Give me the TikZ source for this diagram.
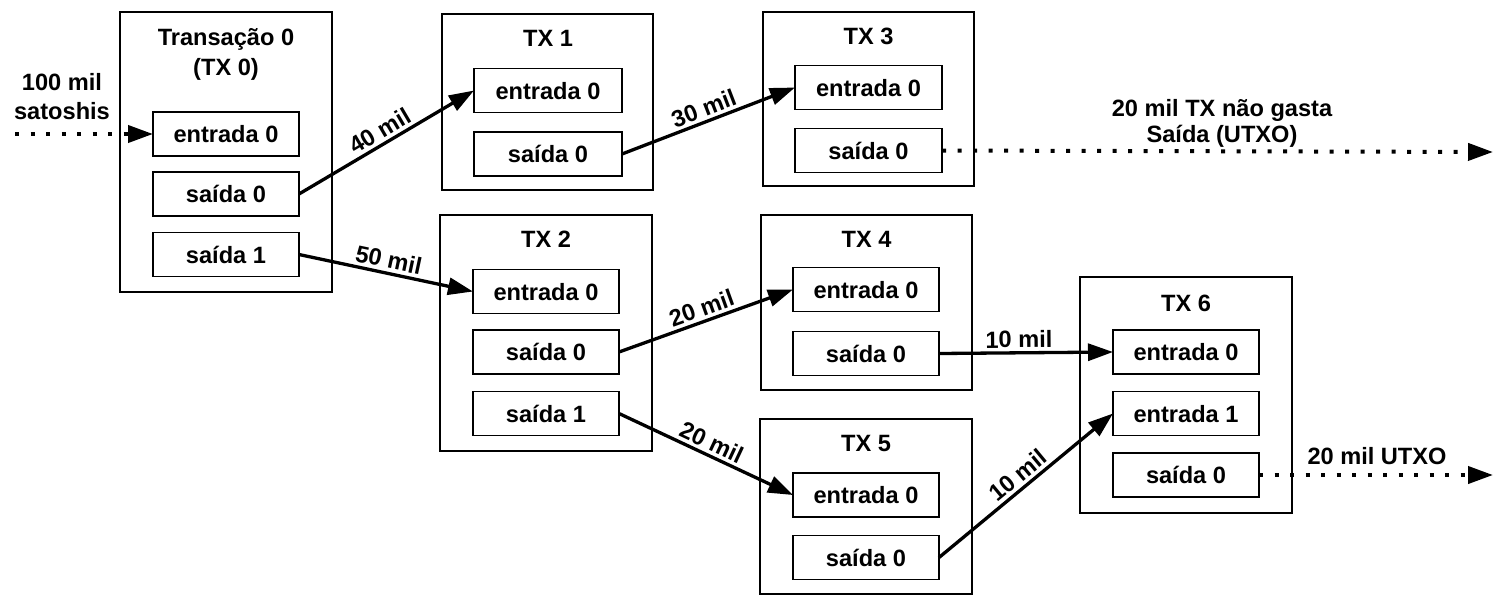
\documentclass[tikz,border=0pt]{standalone}
\usepackage{fontspec}
\setmainfont{Liberation Sans}
\usetikzlibrary{arrows.meta}
\begin{document}
\begin{tikzpicture}[x=1pt,y=-1pt,
  every node/.style={font=\fontsize{23.6}{28}\selectfont\bfseries, text height=17pt, text depth=0pt, inner sep=0pt, outer sep=0pt},
  txbox/.style={draw, line width=1.2pt},
  iobox/.style={draw, line width=1.2pt, minimum width=146pt, minimum height=44pt},
  flow/.style={line width=3.3pt, -{Triangle[length=25pt,width=17pt]}},
  utxo/.style={line width=4pt, dash pattern=on 4pt off 11.5pt, -{Triangle[length=25pt,width=17pt]}},
  lbl/.style={sloped, above=5pt}
]
\useasboundingbox (0,0) rectangle (1509,606);
\fill[white] (0,0) rectangle (1509,606);

% TX 0
\node[txbox, minimum width=212pt, minimum height=280pt] (tx0) at (226,152) {};
\node (tx0t1) at (226,37) {Transação 0};
\node (tx0t2) at (226,67) {(TX 0)};
\node[iobox] (t0e0) at (226,134) {entrada 0};
\node[iobox] (t0s0) at (226,194) {saída 0};
\node[iobox] (t0s1) at (226,254.5) {saída 1};

% TX 1
\node[txbox, minimum width=211pt, minimum height=176pt] (tx1) at (547.5,102) {};
\node (tx1t) at (548,38) {TX 1};
\node[iobox, minimum width=148pt] (t1e0) at (548,90.5) {entrada 0};
\node[iobox, minimum width=148pt] (t1s0) at (548,154) {saída 0};

% TX 2
\node[txbox, minimum width=212pt, minimum height=236pt] (tx2) at (546,333) {};
\node (tx2t) at (546,239) {TX 2};
\node[iobox] (t2e0) at (546,291.5) {entrada 0};
\node[iobox] (t2s0) at (546,352) {saída 0};
\node[iobox] (t2s1) at (546,413.5) {saída 1};

% TX 3
\node[txbox, minimum width=211pt, minimum height=174pt] (tx3) at (868.5,99) {};
\node (tx3t) at (868.5,36) {TX 3};
\node[iobox, minimum width=147pt] (t3e0) at (868.5,87.5) {entrada 0};
\node[iobox, minimum width=147pt] (t3s0) at (868.5,150.5) {saída 0};

% TX 4
\node[txbox, minimum width=211pt, minimum height=175pt] (tx4) at (866.5,302.5) {};
\node (tx4t) at (866.5,239) {TX 4};
\node[iobox] (t4e0) at (866,289.5) {entrada 0};
\node[iobox] (t4s0) at (866,353.5) {saída 0};

% TX 5
\node[txbox, minimum width=212pt, minimum height=175pt] (tx5) at (866,506.5) {};
\node (tx5t) at (866,443) {TX 5};
\node[iobox] (t5e0) at (866,495) {entrada 0};
\node[iobox] (t5s0) at (866,557.5) {saída 0};

% TX 6
\node[txbox, minimum width=212pt, minimum height=236pt] (tx6) at (1186,395) {};
\node (tx6t) at (1186,303) {TX 6};
\node[iobox] (t6e0) at (1186,352) {entrada 0};
\node[iobox] (t6e1) at (1186,413.5) {entrada 1};
\node[iobox] (t6s0) at (1186,475) {saída 0};

% free labels
\node (in1) at (62,82) {100 mil};
\node (in2) at (62,111) {satoshis};
\node (u1) at (1222,108) {20 mil TX não gasta};
\node (u2) at (1222,134) {Saída (UTXO)};
\node (u3) at (1377,456) {20 mil UTXO};

% free ends
\coordinate (src) at (15,134);
\coordinate (end3) at (1493,152);
\coordinate (end6) at (1493,475);

% connectors
\draw[utxo] (src) -- (t0e0.west);
\draw[flow] (t0s0.east) -- node[lbl]{40 mil} (t1e0.west);
\draw[flow] (t0s1.east) -- node[lbl]{50 mil} (t2e0.west);
\draw[flow] (t1s0.east) -- node[lbl]{30 mil} (t3e0.west);
\draw[flow] (t2s0.east) -- node[lbl]{20 mil} (t4e0.west);
\draw[flow] (t2s1.east) -- node[lbl]{20 mil} (t5e0.west);
\draw[flow] (t4s0.east) -- node[lbl, pos=0.46]{10 mil} (t6e0.west);
\draw[flow] (t5s0.east) -- node[lbl]{10 mil} (t6e1.west);
\draw[utxo] (t3s0.east) -- (end3);
\draw[utxo] (t6s0.east) -- (end6);
\end{tikzpicture}
\end{document}
